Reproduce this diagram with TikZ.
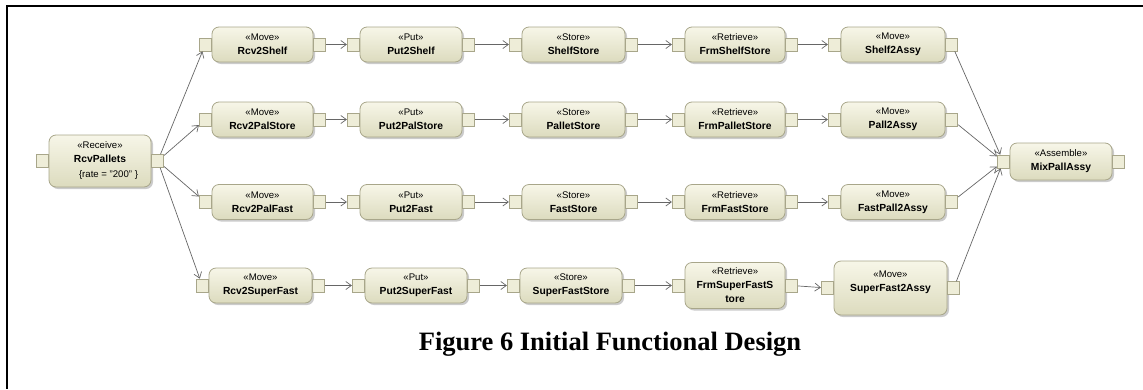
\documentclass[tikz,border=0pt]{standalone}
\usepackage{fontspec}
\setmainfont{Liberation Sans}
\newfontfamily\capfont{Liberation Serif}
\usetikzlibrary{arrows.meta,shadows}

\definecolor{boxfillA}{HTML}{F7F6E8}
\definecolor{boxfillB}{HTML}{DCDBBE}
\definecolor{boxline}{HTML}{A8A68A}
\definecolor{pinfill}{HTML}{EEEDD8}
\definecolor{flowline}{HTML}{666666}

\tikzset{
  actbox/.style={rectangle, rounded corners=7pt, draw=boxline, line width=0.8pt,
    top color=boxfillA, bottom color=boxfillB, minimum height=35pt, inner sep=1pt,
    align=center, font=\fontsize{10.3}{14}\selectfont\bfseries,
    drop shadow={shadow xshift=2pt, shadow yshift=-2pt, fill=black!45, opacity=0.45}},
  actpin/.style={rectangle, draw=boxline, fill=pinfill, line width=0.7pt,
    minimum width=12pt, minimum height=13pt, inner sep=0pt},
  flow/.style={draw=flowline, line width=0.7pt, -{Straight Barb[length=5.5pt,width=8pt]}},
  frameline/.style={line width=2pt, black},
  caption/.style={font=\capfont\bfseries\fontsize{26.5}{30}\selectfont, anchor=base}
}

% stereotype line above an action name
\newcommand{\stype}[1]{{\mdseries\fontsize{9.6}{14}\selectfont «#1»}\\}
% action box with its input pin (name i) and output pin (name o)
\newcommand{\actnode}[6][]{%
  \node[actbox, minimum width=#5pt, #1] (#2) at (#3,#4) {#6};
  \node[actpin, anchor=east] (#2i) at (#2.west) {};
  \node[actpin, anchor=west] (#2o) at (#2.east) {};}

\begin{document}
\begin{tikzpicture}[x=1pt, y=-1pt]
\useasboundingbox (0,0) rectangle (1143,389);

% page frame
\draw[frameline] (1143,6) -- (7,6) -- (7,389);

% source
\actnode[minimum height=52pt]{rp}{100}{161}{102}{\stype{Receive}RcvPallets\\[1pt]{\mdseries\fontsize{9.6}{14}\selectfont\hspace*{17pt}\{rate = "200" \}}}

% shelf line
\actnode{rs}{262.5}{44.5}{101}{\stype{Move}Rcv2Shelf}
\actnode{ps}{411}{44.5}{102}{\stype{Put}Put2Shelf}
\actnode{ss}{573.5}{44.5}{103}{\stype{Store}ShelfStore}
\actnode{fs}{735}{44.5}{100}{\stype{Retrieve}FrmShelfStore}
\actnode{sa}{893}{44.5}{104}{\stype{Move}Shelf2Assy}

% pallet store line
\actnode{rl}{262.5}{119.5}{101}{\stype{Move}Rcv2PalStore}
\actnode{pl}{411}{119.5}{102}{\stype{Put}Put2PalStore}
\actnode{sl}{573.5}{119.5}{103}{\stype{Store}PalletStore}
\actnode{fl}{735}{119.5}{100}{\stype{Retrieve}FrmPalletStore}
\actnode{la}{893}{119.5}{104}{\stype{Move}Pall2Assy}

% fast line
\actnode{rf}{262.5}{202}{101}{\stype{Move}Rcv2PalFast}
\actnode{pf}{411}{202}{102}{\stype{Put}Put2Fast}
\actnode{sf}{573.5}{202}{103}{\stype{Store}FastStore}
\actnode{ff}{735}{202}{100}{\stype{Retrieve}FrmFastStore}
\actnode{fa}{893}{202}{104}{\stype{Move}FastPall2Assy}

% super fast line
\actnode{ru}{260.5}{285.5}{103}{\stype{Move}Rcv2SuperFast}
\actnode{pu}{416}{285.5}{102}{\stype{Put}Put2SuperFast}
\actnode{su}{571}{285.5}{102}{\stype{Store}SuperFastStore}
\actnode[minimum height=46pt]{fu}{735}{285.5}{100}{\stype{Retrieve}FrmSuperFastS\\tore}
\actnode[minimum height=54pt]{ua}{890.5}{288}{113}{\stype{Move}SuperFast2Assy\\\mbox{}}

% sink
\actnode[minimum height=37pt]{mx}{1061}{161.5}{102}{\stype{Assemble}MixPallAssy}

% fan out
\foreach \t in {rs,rl,rf,ru} \draw[flow] (rpo) -- (\t i);
% chains
\foreach \a/\b in {rs/ps,ps/ss,ss/fs,fs/sa,
                   rl/pl,pl/sl,sl/fl,fl/la,
                   rf/pf,pf/sf,sf/ff,ff/fa,
                   ru/pu,pu/su,su/fu,fu/ua}
  \draw[flow] (\a o) -- (\b i);
% fan in
\foreach \s in {sa,la,fa,ua} \draw[flow] (\s o) -- (mxi);

% caption
\node[caption] (cap) at (610,350) {Figure 6 Initial Functional Design};
\end{tikzpicture}
\end{document}
